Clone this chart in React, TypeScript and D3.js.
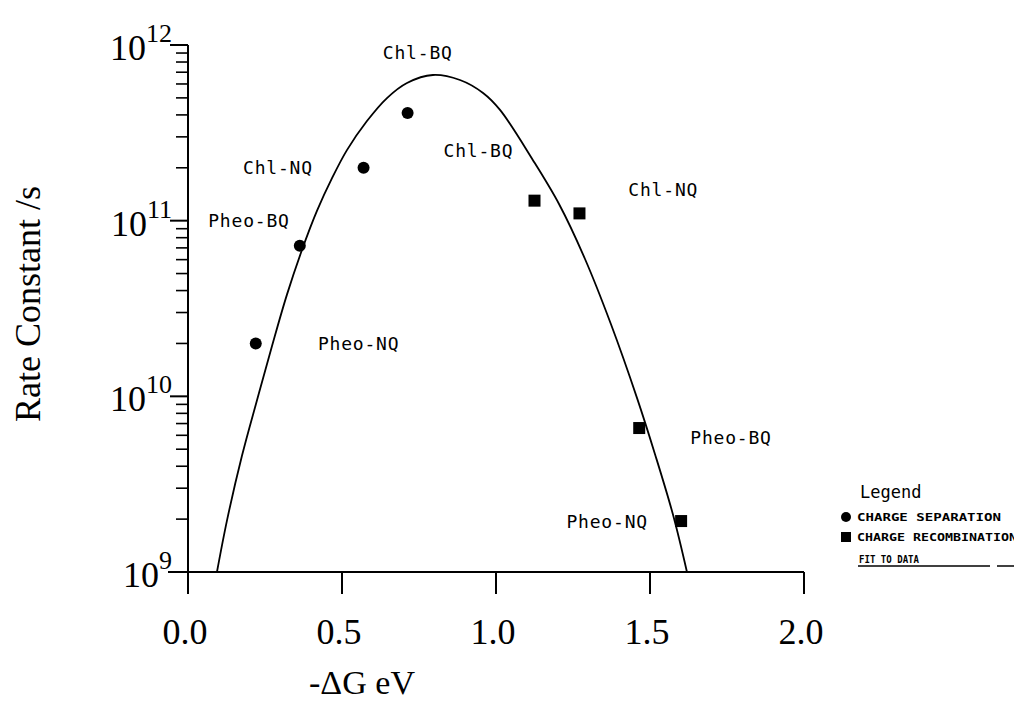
import React from "react";
import * as d3 from "d3";

// Measured rate constants (s^-1) against driving force -ΔG (eV)
const separationEnergy = [0.22, 0.363, 0.57, 0.713];
const separationRate = [2.0e10, 7.2e10, 2.0e11, 4.1e11];

const recombinationEnergy = [1.125, 1.271, 1.465, 1.601];
const recombinationRate = [1.3e11, 1.1e11, 6.6e9, 1.95e9];

// Fitted rate curve
const fitEnergy = [
  0.094, 0.127, 0.175, 0.224, 0.273, 0.321, 0.37, 0.419, 0.468, 0.516, 0.581,
  0.646, 0.711, 0.795, 0.883, 0.958, 1.013, 1.12, 1.205, 1.289, 1.373, 1.458,
  1.516, 1.575, 1.62,
];
const fitRate = [
  1.0e9, 1.98e9, 4.57e9, 9.5e9, 1.94e10, 3.78e10, 6.81e10, 1.14e11, 1.75e11,
  2.52e11, 3.69e11, 4.99e11, 6.08e11, 6.75e11, 6.32e11, 5.33e11, 4.27e11,
  2.21e11, 1.24e11, 6.05e10, 2.58e10, 9.77e9, 4.7e9, 2.11e9, 1.0e9,
];

// Pair annotations (anchored in data space)
const pairLabels = [
  "Chl-BQ", "Chl-NQ", "Pheo-BQ", "Chl-BQ", "Chl-NQ", "Pheo-NQ", "Pheo-BQ", "Pheo-NQ",
];
const pairLabelEnergy = [0.746, 0.292, 0.198, 0.943, 1.543, 0.554, 1.763, 1.361];
const pairLabelRate = [9.1e11, 2.0e11, 1.0e11, 2.5e11, 1.5e11, 2.0e10, 5.8e9, 1.95e9];

const xTickValues = [0, 0.5, 1.0, 1.5, 2.0];
const xTickLabels = ["0.0", "0.5", "1.0", "1.5", "2.0"];
const yDecadeExponents = [9, 10, 11, 12];

const legendTitle = "Legend";
const legendEntries = ["CHARGE SEPARATION", "CHARGE RECOMBINATION", "FIT TO DATA"];

const W = 1014;
const H = 702;
const left = 188;
const right = 804;
const top = 45;
const bottom = 572;

const plotFont = "'DejaVu Sans Mono', monospace";
const serif = "'Liberation Serif', 'Times New Roman', serif";

export default function App() {
  const x = d3.scaleLinear().domain([0, 2]).range([left, right]);
  const y = d3.scaleLog().domain([1e9, 1e12]).range([bottom, top]);

  const minorTicks: number[] = [];
  for (const e of [9, 10, 11]) {
    for (let m = 2; m <= 9; m++) minorTicks.push(m * Math.pow(10, e));
  }

  const fitPath =
    d3
      .line<number>()
      .x((_, i) => x(fitEnergy[i]))
      .y((_, i) => y(fitRate[i]))
      .curve(d3.curveCatmullRom.alpha(0.5))(fitEnergy) || "";

  const sq = 12;

  return (
    <div style={{ position: "absolute", left: 0, top: 0 }}>
      <svg width={W} height={H} style={{ display: "block", background: "#fff" }}>
        {/* axes */}
        <g stroke="#000" strokeWidth={2} fill="none">
          <line x1={left} y1={top} x2={left} y2={bottom} />
          <line x1={left - 20} y1={bottom} x2={right} y2={bottom} />
          {xTickValues.map((v) => (
            <line key={"xt" + v} x1={x(v)} y1={bottom} x2={x(v)} y2={bottom + 22} />
          ))}
          {yDecadeExponents.map((e) => (
            <line
              key={"yt" + e}
              x1={left - 18}
              y1={y(Math.pow(10, e))}
              x2={left}
              y2={y(Math.pow(10, e))}
            />
          ))}
          {minorTicks.map((v) => (
            <line key={"ym" + v} x1={left - 12} y1={y(v)} x2={left} y2={y(v)} strokeWidth={1.6} />
          ))}
        </g>

        {/* x tick labels */}
        {xTickValues.map((v, i) => (
          <text
            key={"xl" + v}
            x={x(v) - 3}
            y={644}
            textAnchor="middle"
            fontFamily={serif}
            fontSize={36}
            fill="#000"
          >
            {xTickLabels[i]}
          </text>
        ))}

        {/* y tick labels */}
        {yDecadeExponents.map((e) => (
          <text
            key={"yl" + e}
            x={172}
            y={y(Math.pow(10, e)) + 15}
            textAnchor="end"
            fontFamily={serif}
            fontSize={36}
            fill="#000"
          >
            10
            <tspan dy={-18} fontSize={26}>
              {e}
            </tspan>
          </text>
        ))}

        {/* axis titles */}
        <text
          transform="translate(40,304) rotate(-90)"
          textAnchor="middle"
          fontFamily={serif}
          fontSize={36}
          fill="#000"
        >
          Rate Constant /s
        </text>
        <text x={362} y={694} textAnchor="middle" fontFamily={serif} fontSize={34} fill="#000">
          -ΔG eV
        </text>

        {/* fitted curve */}
        <path d={fitPath} fill="none" stroke="#000" strokeWidth={1.8} />

        {/* data points */}
        {separationEnergy.map((v, i) => (
          <circle key={"s" + i} cx={x(v)} cy={y(separationRate[i])} r={6} fill="#000" />
        ))}
        {recombinationEnergy.map((v, i) => (
          <rect
            key={"r" + i}
            x={x(v) - sq / 2}
            y={y(recombinationRate[i]) - sq / 2}
            width={sq}
            height={sq}
            fill="#000"
          />
        ))}

        {/* pair annotations */}
        {pairLabels.map((t, i) => (
          <text
            key={"pl" + i}
            x={x(pairLabelEnergy[i])}
            y={y(pairLabelRate[i]) + 6.5}
            textAnchor="middle"
            fontFamily={plotFont}
            fontSize={18}
            letterSpacing={0.8}
            fill="#000"
          >
            {t}
          </text>
        ))}

        {/* legend */}
        <text x={860} y={498} fontFamily={plotFont} fontSize={17} fill="#000">
          {legendTitle}
        </text>
        <circle cx={846} cy={517} r={5} fill="#000" />
        <text
          x={857}
          y={521}
          fontFamily={plotFont}
          fontSize={10}
          fontWeight="bold"
          textLength={144}
          lengthAdjust="spacingAndGlyphs"
          fill="#000"
        >
          {legendEntries[0]}
        </text>
        <rect x={841} y={532} width={10} height={10} fill="#000" />
        <text
          x={857}
          y={541}
          fontFamily={plotFont}
          fontSize={10}
          fontWeight="bold"
          textLength={160}
          lengthAdjust="spacingAndGlyphs"
          fill="#000"
        >
          {legendEntries[1]}
        </text>
        <text
          x={859}
          y={563}
          fontFamily={plotFont}
          fontSize={10}
          fontWeight="bold"
          textLength={60}
          lengthAdjust="spacingAndGlyphs"
          fill="#000"
        >
          {legendEntries[2]}
        </text>
        <line x1={858} y1={566} x2={990} y2={566} stroke="#000" strokeWidth={1.5} />
        <line x1={997} y1={566} x2={1014} y2={566} stroke="#000" strokeWidth={1.5} />
      </svg>
    </div>
  );
}
